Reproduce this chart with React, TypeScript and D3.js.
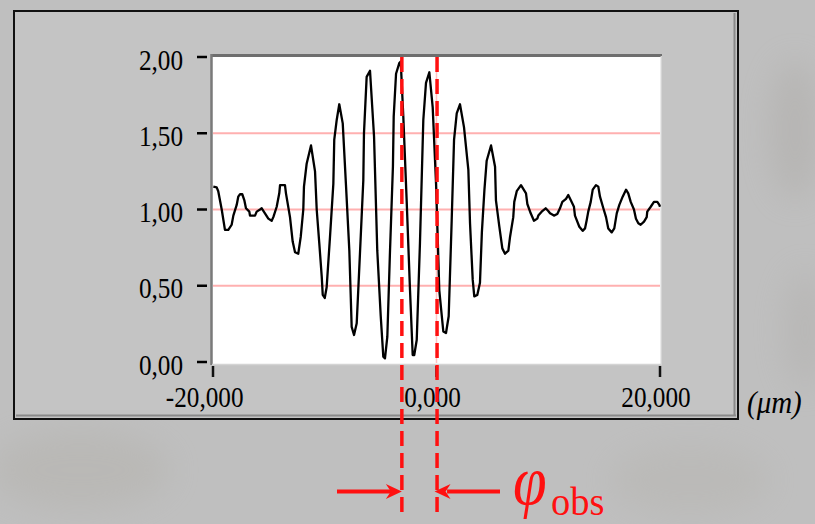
import React from 'react';
import * as d3 from 'd3';

const xValues = [
  -19.97, -19.67, -19.53, -19.22, -18.93, -18.63, -18.33, -18.18, -17.88, -17.74,
  -17.58, -17.38, -17.2, -17.05, -16.75, -16.69, -16.24, -16.09, -15.79, -15.64,
  -15.35, -15.05, -14.75, -14.6, -14.3, -14.07, -14.0, -13.56, -13.47, -13.11,
  -12.87, -12.66, -12.37, -12.15, -11.92, -11.86, -11.62, -11.23, -10.87, -10.72,
  -10.49, -10.27, -10.18, -10.0, -9.83, -9.53, -9.23, -9.15, -8.93, -8.7,
  -8.39, -8.1, -7.8, -7.59, -7.38, -7.14, -6.85, -6.55, -6.49, -6.25,
  -5.95, -5.59, -5.3, -4.99, -4.76, -4.61, -4.4, -4.16, -3.9, -3.83,
  -3.62, -3.33, -3.2, -2.97, -2.67, -2.37, -2.13, -1.99, -1.77, -1.48,
  -1.18, -0.94, -0.64, -0.34, -0.04, 0.25, 0.61, 0.85, 1.09, 1.36,
  1.57, 1.81, 2.1, 2.46, 2.85, 3.0, 3.24, 3.38, 3.65, 3.89,
  4.06, 4.29, 4.49, 4.88, 5.24, 5.32, 5.62, 5.89, 6.13, 6.43,
  6.58, 6.87, 6.96, 7.18, 7.56, 8.01, 8.13, 8.43, 8.72, 9.02,
  9.11, 9.41, 9.77, 10.0, 10.16, 10.51, 10.81, 11.05, 11.26, 11.59,
  11.79, 12.01, 12.3, 12.39, 12.78, 13.08, 13.29, 13.44, 13.58, 13.8,
  13.98, 14.27, 14.48, 14.63, 14.93, 15.17, 15.37, 15.68, 15.91, 16.13,
  16.36, 16.66, 16.96, 17.16, 17.38, 17.67, 17.85, 18.06, 18.27, 18.57,
  18.81, 18.86, 19.17, 19.46, 19.76, 19.94, 20.0,
];

const yValues = [
  1.15, 1.145, 1.12, 1.0, 0.866, 0.866, 0.9, 0.96, 1.03, 1.084,
  1.1, 1.1, 1.062, 1.008, 0.986, 0.96, 0.96, 0.986, 1.0, 1.008,
  0.975, 0.94, 0.926, 0.95, 1.018, 1.106, 1.16, 1.16, 1.106, 0.95,
  0.79, 0.72, 0.71, 0.82, 1.0, 1.15, 1.3, 1.42, 1.25, 1.0,
  0.78, 0.56, 0.44, 0.42, 0.49, 0.82, 1.17, 1.456, 1.587, 1.69,
  1.565, 1.16, 0.73, 0.23, 0.177, 0.254, 0.71, 1.19, 1.5, 1.87,
  1.91, 1.48, 0.73, 0.3, 0.035, 0.024, 0.166, 0.73, 1.28, 1.61,
  1.89, 1.96, 1.97, 1.61, 1.06, 0.47, 0.046, 0.046, 0.144, 0.78,
  1.587, 1.83, 1.9, 1.67, 1.17, 0.47, 0.2, 0.19, 0.3, 0.93,
  1.456, 1.63, 1.69, 1.54, 1.26, 0.91, 0.54, 0.43, 0.44, 0.52,
  0.85, 1.13, 1.32, 1.42, 1.28, 1.06, 0.89, 0.745, 0.71, 0.73,
  0.82, 0.95, 1.05, 1.12, 1.16, 1.106, 1.036, 0.975, 0.926, 0.94,
  0.96, 0.986, 1.008, 0.99, 0.975, 0.96, 0.97, 1.008, 1.05, 1.07,
  1.095, 1.062, 1.018, 0.96, 0.887, 0.86, 0.876, 0.93, 0.986, 1.05,
  1.13, 1.16, 1.15, 1.084, 1.008, 0.95, 0.876, 0.85, 0.876, 0.975,
  1.03, 1.084, 1.13, 1.106, 1.05, 1.0, 0.94, 0.91, 0.9, 0.92,
  0.95, 0.986, 1.018, 1.05, 1.05, 1.03, 1.018,
];

const yTicks = [0, 0.5, 1, 1.5, 2];
const yTickLabels = ['0,00', '0,50', '1,00', '1,50', '2,00'];
const xTicks = [-20, 0, 20];
const xTickLabels = ['-20,000', '0,000', '20,000'];
const gridValues = [0.5, 1, 1.5];
const verticalGrid = [0];
const markerPositions = [-3.1, 0.05];
const unitLabel = '(\u03bcm)';
const phiSymbol = '\u03c6';
const phiSub = 'obs';

const SERIF = '"Liberation Serif", "Times New Roman", "DejaVu Serif", serif';

function Label(props: {
  x: number;
  y: number;
  text: string;
  anchor?: string;
  size: number;
  sy?: number;
  sx?: number;
  italic?: boolean;
  fill?: string;
}) {
  const { x, y, text, anchor = 'start', size, sy = 1.15, sx = 1, italic = false, fill = '#000' } = props;
  return (
    <g transform={`translate(${x},${y}) scale(${sx},${sy})`}>
      <text
        x={0}
        y={0}
        textAnchor={anchor as any}
        fontFamily={SERIF}
        fontSize={size}
        fontStyle={italic ? 'italic' : 'normal'}
        fill={fill}
      >
        {text}
      </text>
    </g>
  );
}

export default function App() {
  const W = 815;
  const H = 524;
  const plot = { left: 213, right: 660, top: 57, bottom: 362 };
  const x = d3.scaleLinear().domain([-20, 20]).range([plot.left, plot.right]);
  const y = d3.scaleLinear().domain([0, 2]).range([plot.bottom, plot.top]);

  const pts: [number, number][] = xValues.map((v, i) => [v, yValues[i]]);
  const linePath = d3
    .line<[number, number]>()
    .x((d) => x(d[0]))
    .y((d) => y(d[1]))(pts) as string;

  const m1 = x(markerPositions[0]);
  const m2 = x(markerPositions[1]);
  const arrowY = 491.5;

  const arrowHead = (tipX: number, dir: number) => {
    const L = 16;
    const hw = 7.5;
    return `M${tipX},${arrowY} L${tipX - dir * L},${arrowY - hw} L${tipX - dir * 11},${arrowY} L${tipX - dir * L},${arrowY + hw} Z`;
  };

  return (
    <svg
      width={W}
      height={H}
      viewBox={`0 0 ${W} ${H}`}
      style={{ position: 'absolute', left: 0, top: 0, display: 'block' }}
    >
      <defs>
        <filter id="blur" x="-50%" y="-50%" width="200%" height="200%">
          <feGaussianBlur stdDeviation="16" />
        </filter>
      </defs>
      {/* blurred photo-like background */}
      <rect x={0} y={0} width={W} height={H} fill="#bfbfbf" />
      <g filter="url(#blur)" opacity={0.28}>
        <ellipse cx={795} cy={130} rx={25} ry={70} fill="#a09c96" />
        <ellipse cx={805} cy={330} rx={20} ry={60} fill="#a6a39e" />
        <ellipse cx={80} cy={470} rx={90} ry={40} fill="#aca89f" />
        <ellipse cx={690} cy={480} rx={80} ry={35} fill="#b0ada6" />
      </g>

      {/* chart frame */}
      <rect x={14} y={11} width={724} height={408} fill="#c4c4c4" stroke="#111" strokeWidth={2} />
      <line x1={16} y1={415.5} x2={736} y2={415.5} stroke="#8a8a8a" strokeWidth={2} />
      <line x1={734.5} y1={13} x2={734.5} y2={416} stroke="#8a8a8a" strokeWidth={2} />

      {/* plot area */}
      <rect x={212} y={56} width={449} height={308} fill="#ffffff" />
      <line x1={211} y1={55.5} x2={662} y2={55.5} stroke="#6e6e6e" strokeWidth={3} />
      <line x1={211.5} y1={54} x2={211.5} y2={365} stroke="#7a7a7a" strokeWidth={2.5} />
      <line x1={212} y1={364.5} x2={662} y2={364.5} stroke="#d4d4d4" strokeWidth={1.5} />
      <line x1={661.3} y1={56} x2={661.3} y2={365} stroke="#d4d4d4" strokeWidth={1.5} />

      {/* gridlines */}
      {gridValues.map((g) => (
        <line key={`g${g}`} x1={213} x2={660} y1={y(g)} y2={y(g)} stroke="#ffb0b0" strokeWidth={2} />
      ))}
      {verticalGrid.map((g) => (
        <line key={`vg${g}`} x1={x(g)} x2={x(g)} y1={57} y2={363} stroke="#ffc4c4" strokeWidth={1.5} />
      ))}

      {/* data */}
      <path d={linePath} fill="none" stroke="#000" strokeWidth={2.3} strokeLinejoin="round" />

      {/* y ticks & labels */}
      {yTicks.map((t, i) => (
        <g key={`yt${t}`}>
          <line x1={197} x2={207} y1={y(t)} y2={y(t)} stroke="#000" strokeWidth={2.5} />
          <Label x={183} y={y(t) + 12.5} text={yTickLabels[i]} anchor="end" size={26} sx={0.97} sy={1.14} />
        </g>
      ))}

      {/* x ticks & labels */}
      {xTicks.map((t, i) => (
        <g key={`xt${t}`}>
          <line x1={x(t)} x2={x(t)} y1={366} y2={377} stroke="#111" strokeWidth={2.5} />
          <Label
            x={x(t) - 4 - (t < 0 ? 4.3 : 0)}
            y={406.5}
            text={xTickLabels[i]}
            anchor="middle"
            size={26}
            sx={0.97}
            sy={1.14}
          />
        </g>
      ))}

      {/* unit */}
      <Label x={747} y={413} text={unitLabel} size={29} italic sx={1} sy={1.12} />

      {/* red dashed marker lines */}
      {markerPositions.map((p, i) => (
        <line
          key={`m${i}`}
          x1={x(p)}
          x2={x(p)}
          y1={57}
          y2={515}
          stroke="#ff1010"
          strokeWidth={3.5}
          strokeDasharray="15 7"
        />
      ))}

      {/* arrows */}
      <line x1={337} x2={m1 - 10} y1={arrowY} y2={arrowY} stroke="#ff1010" strokeWidth={4} />
      <path d={arrowHead(m1, 1)} fill="#ff1010" />
      <line x1={m2 + 10} x2={500} y1={arrowY} y2={arrowY} stroke="#ff1010" strokeWidth={4} />
      <path d={arrowHead(m2 - 2.5, -1)} fill="#ff1010" />

      {/* phi_obs */}
      <Label x={513} y={504} text={phiSymbol} size={62} italic sx={0.98} sy={1.12} fill="#ff1010" />
      <Label x={551} y={515} text={phiSub} size={37} sx={1.04} sy={1.1} fill="#ff1010" />
    </svg>
  );
}
